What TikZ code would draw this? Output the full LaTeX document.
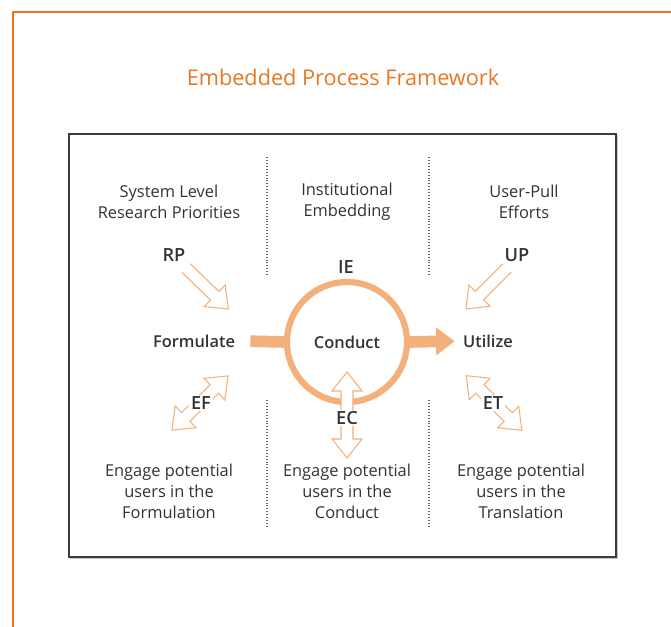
\documentclass[tikz,border=0pt]{standalone}
\usepackage{fontspec}
\setmainfont{Open Sans}
\IfFontExistsTF{Open Sans SemiBold}
  {\newfontfamily\semifont{Open Sans SemiBold}}
  {\IfFontExistsTF{Open Sans Semibold}
    {\newfontfamily\semifont{Open Sans Semibold}}
    {\newfontfamily\semifont{Open Sans}[FakeBold=1.2]}}
\usetikzlibrary{arrows.meta, positioning, calc}
\definecolor{frameorange}{RGB}{232,119,34}
\definecolor{softorange}{RGB}{243,176,123}
\definecolor{textgray}{RGB}{51,51,51}
\definecolor{boxgray}{RGB}{60,60,60}
\tikzset{
  frameline/.style={draw=frameorange, line width=1.3pt},
  boxline/.style={draw=boxgray, line width=0.9pt},
  divider/.style={draw=boxgray!80, line width=1.1pt, dash pattern=on 0.9pt off 1.6pt},
  heading/.style={text=textgray, align=center, font=\fontsize{14}{18}\selectfont},
  phase/.style={text=textgray, font=\fontsize{14}{16}\selectfont\semifont, inner sep=3pt},
  tag/.style={text=textgray, font=\fontsize{15.5}{16}\selectfont\semifont, fill=white, inner sep=1.5pt},
  cycle/.style={circle, draw=softorange, line width=5.3pt, minimum size=3.6cm, outer sep=0pt,
    text=textgray, font=\fontsize{14}{16}\selectfont\semifont},
  bar/.style={draw=softorange, line width=10pt},
  push/.style={bar, -{Triangle[length=16pt, width=23pt]}},
  hollow/.style={draw=softorange, fill=white, line width=0.9pt, line join=miter},
  pics/outline arrow/.style={code={
    \draw[hollow] (0,6) -- (#1-19,6) -- (#1-19,15) -- (#1,0) -- (#1-19,-15) -- (#1-19,-6) -- (0,-6);
  }},
  pics/outline double/.style={code={
    \draw[hollow] (-#1/2+19,6) -- (#1/2-19,6) -- (#1/2-19,15) -- (#1/2,0) -- (#1/2-19,-15)
      -- (#1/2-19,-6) -- (-#1/2+19,-6) -- (-#1/2+19,-15) -- (-#1/2,0) -- (-#1/2+19,15) -- cycle;
  }},
}
\begin{document}
\begin{tikzpicture}[x=0.03cm, y=-0.03cm]
  \useasboundingbox (0,0) rectangle (671,627);

  % outer frame and title
  \draw[frameline] (13,627) -- (13,12) -- (671,12);
  \node[text=frameorange, font=\fontsize{18.5}{20}\selectfont] (title) at (343,77) {Embedded Process Framework};

  % framework box
  \draw[draw=gray!45, line width=1.2pt] (71,136) rectangle (617.5,558.5);
  \draw[boxline, fill=white] (69,134) rectangle (616,557);
  \draw[divider] (267,157) -- (267,276);
  \draw[divider] (429,157) -- (429,276);
  \draw[divider] (267,400) -- (267,526);
  \draw[divider] (429,400) -- (429,526);

  % column headings
  \node[heading] (rphead) at (169,202) {System Level\\Research Priorities};
  \node[heading] (iehead) at (347,202) {Institutional\\Embedding};
  \node[heading] (uphead) at (524,202) {User-Pull\\Efforts};

  % process
  \node[cycle] (conduct) at (347,342) {Conduct};
  \node[phase] (formulate) at (194,341) {Formulate};
  \node[phase] (utilize) at (488,341) {Utilize};
  \draw[bar, shorten <=10pt] (formulate.east) -- (conduct.west);
  \draw[push, shorten >=4pt] (conduct.east) -- (utilize.west);

  % influences
  \pic[rotate=-44] at (186,268) {outline arrow=59};
  \pic[rotate=-135] at (507,268) {outline arrow=58};
  \pic[rotate=44] at (200,403) {outline double=78};
  \pic[rotate=90] at (347,415) {outline double=86};
  \pic[rotate=-44.5] at (494,403) {outline double=78};

  \node[tag] (rp) at (174,255) {RP};
  \node[tag] (ie) at (346,267) {IE};
  \node[tag] (up) at (517,255) {UP};
  \node[tag] (ef) at (201,403) {EF};
  \node[tag] (ec) at (347,418) {EC};
  \node[tag] (et) at (493,403) {ET};

  % engagement
  \node[heading] (efnote) at (169,491) {Engage potential\\users in the\\Formulation};
  \node[heading] (ecnote) at (347,491) {Engage potential\\users in the\\Conduct};
  \node[heading] (etnote) at (521,491) {Engage potential\\users in the\\Translation};
\end{tikzpicture}
\end{document}
